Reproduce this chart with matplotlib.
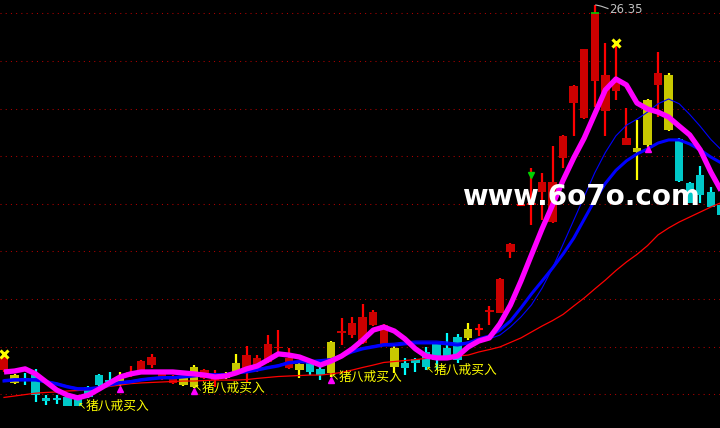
import matplotlib
matplotlib.use("Agg")
import matplotlib.pyplot as plt
import numpy as np

plt.rcParams['font.family'] = ['Noto Sans CJK SC', 'DejaVu Sans']

# daily candles (price units)
opens = [11.01, 10.47, 10.68, 10.80, 9.84, 9.84, 9.88, 9.96, 10.30, 10.80,
         10.59, 10.38, 10.87, 10.93, 11.22, 10.64, 10.47, 10.38, 10.30, 10.68,
         10.59, 10.68, 10.93, 11.10, 11.01, 11.35, 11.94, 11.10, 11.01, 11.31,
         11.06, 10.89, 12.57, 12.48, 12.15, 12.90, 12.06, 11.14, 11.31, 11.48,
         11.77, 12.11, 11.94, 12.40, 12.36, 12.72, 13.45, 13.41, 15.97, 17.95,
         17.95, 18.49, 17.23, 19.92, 22.23, 21.60, 23.16, 21.90, 22.74, 20.47,
         20.17, 20.47, 22.99, 21.10, 20.72, 18.87, 19.21, 18.49, 17.95]
highs = [11.69, 10.86, 10.89, 11.06, 9.96, 9.96, 9.90, 9.98, 10.34, 10.84,
         10.93, 10.93, 11.18, 11.43, 11.69, 10.93, 10.80, 10.76, 11.22, 11.05,
         11.01, 10.93, 11.69, 12.02, 11.64, 12.48, 12.69, 11.94, 11.31, 11.35,
         11.14, 12.23, 13.20, 13.24, 13.79, 13.55, 12.95, 12.02, 11.52, 11.52,
         11.98, 12.19, 12.57, 12.52, 12.99, 12.95, 13.70, 14.86, 16.33, 17.97,
         19.50, 19.29, 20.42, 20.87, 22.97, 24.52, 26.35, 24.75, 24.75, 22.02,
         21.52, 22.40, 24.37, 23.49, 20.76, 18.90, 19.58, 18.70, 18.10]
lows = [10.93, 10.44, 10.38, 9.67, 9.54, 9.58, 9.48, 9.48, 9.84, 10.30,
        10.30, 10.34, 10.72, 10.89, 11.10, 10.60, 10.44, 10.34, 10.26, 10.64,
        10.30, 10.64, 10.89, 10.51, 10.93, 11.31, 11.77, 11.06, 10.68, 10.80,
        10.59, 10.72, 12.06, 12.36, 12.11, 12.86, 12.02, 10.89, 10.80, 10.93,
        11.01, 11.01, 11.43, 11.31, 12.27, 12.44, 12.90, 13.39, 15.72, 17.95,
        17.11, 17.32, 17.19, 19.50, 20.85, 21.58, 22.06, 20.85, 22.36, 20.47,
        19.00, 20.40, 21.64, 21.06, 18.91, 18.03, 18.03, 17.86, 17.40]
closes = [11.56, 10.80, 10.59, 9.96, 9.71, 9.75, 9.50, 9.50, 9.88, 10.38,
          10.51, 10.72, 10.91, 11.39, 11.56, 10.89, 10.72, 10.72, 11.14, 11.01,
          10.64, 10.89, 11.31, 11.64, 11.52, 12.11, 11.98, 11.52, 11.27, 10.93,
          10.80, 12.19, 12.65, 12.99, 13.24, 13.45, 12.90, 11.94, 11.10, 11.31,
          11.14, 11.43, 11.56, 11.43, 12.74, 12.76, 13.52, 14.84, 16.31, 17.97,
          18.03, 18.91, 18.91, 20.85, 22.95, 24.50, 26.01, 23.41, 23.07, 20.76,
          20.34, 22.36, 23.49, 23.41, 18.95, 18.05, 18.37, 17.86, 17.52]
# r = up (red), c = down (cyan), y = yellow signal bar
kinds = list("ry" + "ccccccccc" + "y" + "rrrrr" + "yy" + "rr" + "yy" + "rrrrr"
             + "y" + "cc" + "y" + "rrrrr" + "y" + "cccccc" + "y"
             + "rrrrrrrrrrrrrrr" + "yy" + "r" + "y" + "ccccc")

# indicator lines
ma_main = [10.93, 10.97, 11.06, 10.85, 10.51, 10.17, 9.96, 9.84, 9.96, 10.21,
           10.47, 10.72, 10.85, 10.93, 10.93, 10.93, 10.93, 10.89, 10.85, 10.80,
           10.72, 10.76, 10.89, 11.06, 11.18, 11.43, 11.69, 11.64, 11.56, 11.39,
           11.22, 11.39, 11.60, 11.90, 12.27, 12.69, 12.82, 12.65, 12.32, 11.90,
           11.60, 11.52, 11.52, 11.60, 11.98, 12.23, 12.36, 12.95, 13.74, 14.75,
           15.85, 16.94, 17.95, 18.99, 19.92, 20.76, 21.77, 22.78, 23.24, 22.99,
           22.23, 21.98, 21.85, 21.64, 21.26, 20.89, 20.26, 19.33, 18.53]
ma_blue = [10.55, 10.59, 10.59, 10.59, 10.51, 10.42, 10.30, 10.21, 10.21, 10.26,
           10.38, 10.47, 10.51, 10.59, 10.64, 10.68, 10.68, 10.72, 10.76, 10.80,
           10.80, 10.80, 10.89, 10.93, 11.01, 11.10, 11.18, 11.31, 11.35, 11.35,
           11.39, 11.43, 11.60, 11.77, 11.90, 11.98, 12.06, 12.06, 12.11, 12.15,
           12.15, 12.15, 12.11, 12.06, 12.15, 12.32, 12.44, 12.69, 13.07, 13.62,
           14.21, 14.75, 15.30, 15.89, 16.55, 17.35, 18.15, 18.85, 19.40, 19.80,
           20.09, 20.30, 20.55, 20.68, 20.68, 20.51, 20.26, 19.96, 19.71]
ma_thin = [10.61, 10.65, 10.65, 10.65, 10.57, 10.48, 10.36, 10.27, 10.27, 10.32,
           10.44, 10.53, 10.57, 10.65, 10.70, 10.74, 10.74, 10.78, 10.82, 10.86,
           10.86, 10.86, 10.95, 10.99, 11.07, 11.16, 11.24, 11.37, 11.41, 11.41,
           11.45, 11.49, 11.66, 11.83, 11.96, 12.04, 12.12, 12.14, 12.19, 12.23,
           12.23, 12.23, 12.19, 12.14, 12.19, 12.25, 12.32, 12.48, 12.82, 13.24,
           13.75, 14.45, 15.30, 16.30, 17.30, 18.30, 19.30, 20.15, 20.85, 21.30,
           21.55, 21.85, 22.20, 22.40, 22.20, 21.75, 21.25, 20.70, 20.26]
ma_red = [9.86, 9.92, 9.98, 10.04, 10.07, 10.09, 10.13, 10.15, 10.19, 10.26,
          10.32, 10.38, 10.44, 10.47, 10.49, 10.51, 10.53, 10.55, 10.55, 10.57,
          10.59, 10.59, 10.59, 10.61, 10.66, 10.70, 10.74, 10.76, 10.78, 10.80,
          10.80, 10.85, 10.91, 11.01, 11.12, 11.22, 11.33, 11.37, 11.41, 11.45,
          11.50, 11.54, 11.58, 11.60, 11.64, 11.77, 11.87, 11.98, 12.17, 12.36,
          12.61, 12.86, 13.09, 13.35, 13.70, 14.04, 14.42, 14.79, 15.19, 15.55,
          15.87, 16.24, 16.69, 16.98, 17.23, 17.44, 17.65, 17.86, 18.05]

# signals
buy_bars = [7, 18, 31, 40]        # "猪八戒买入" labels
hat_bars = [11, 18, 31, 61]       # magenta marks under yellow bars
cross_bars = [0, 58]              # yellow crosses on the high
tri_bars = [50]                   # green triangle
top_bar = 56                      # highest bar, labelled with its high
grid_levels = [10, 12, 14, 16, 18, 20, 22, 24, 26]

body_col = {"r": "#cc0000", "c": "#00c8c8", "y": "#c8c800"}
wick_col = {"r": "#ff0000", "c": "#00ffff", "y": "#ffff00"}

n = len(closes)
x = np.arange(n)

fig = plt.figure(figsize=(7.2, 4.28), dpi=100, facecolor="black")
ax = fig.add_axes([0, 0, 1, 1])
ax.set_facecolor("black")
ax.set_xlim(-0.38, 67.87)
ax.set_ylim(8.576, 26.559)
ax.axis("off")

for g in grid_levels:
    ax.axhline(g, color="#b00000", lw=0.75, ls=(0, (1, 4)), zorder=1)

# candles
for i in range(n):
    k = kinds[i]
    ax.vlines(i, lows[i], highs[i], color=wick_col[k], lw=1.6, zorder=2)
    h = abs(closes[i] - opens[i])
    if h < 0.04:
        ax.hlines(opens[i], i - 0.4, i + 0.4, color=wick_col[k], lw=1.5, zorder=3)
    else:
        ax.bar(i, h, 0.8, min(opens[i], closes[i]), color=body_col[k],
               linewidth=0, zorder=3)

# green tick on top of the high bar body
ax.hlines(closes[top_bar], top_bar - 0.4, top_bar + 0.4, color="#00d000", lw=1.2, zorder=4)

ax.plot(x, ma_red, color="#ff0000", lw=0.9, zorder=4)
ax.plot(x, ma_thin, color="#0000ff", lw=0.8, zorder=4)
ax.plot(x, ma_blue, color="#0000ff", lw=2.2, zorder=5)
ax.plot(x, ma_main, color="#ff00ff", lw=3.8, zorder=6, solid_capstyle="butt")

# markers
for i in cross_bars:
    ax.plot(i, highs[i], marker="x", color="#ffff00", ms=6, mew=2.2, zorder=7)
for i in tri_bars:
    ax.plot(i, highs[i] - 0.3, marker="v", color="#00d000", ms=5, zorder=7)
for i in hat_bars:
    ax.plot(i, lows[i] - 0.12, marker="^", color="#ff00ff", ms=4.5, zorder=7)

for i in buy_bars:
    ax.text(i, lows[i], "↖", color="#ffff00", fontsize=7, family="DejaVu Sans",
            ha="left", va="center", zorder=8)
    ax.text(i + 0.7, lows[i], "猪八戒买入", color="#ffff00", fontsize=9.2,
            ha="left", va="center", zorder=8)

# high price label
ax.plot([top_bar + 0.1, top_bar + 0.6, top_bar + 1.25],
        [highs[top_bar], highs[top_bar] - 0.05, highs[top_bar] - 0.15],
        color="#c0c0c0", lw=0.8, zorder=8)
ax.text(top_bar + 1.4, highs[top_bar] - 0.2, f"{highs[top_bar]:.2f}", color="#c0c0c0",
        fontsize=8.5, family="DejaVu Sans", ha="left", va="center", zorder=8)

# watermark
ax.text(462 / 720, 1 - 205 / 428, "www.6o7o.com", transform=ax.transAxes,
        color="white", fontsize=20, fontweight="bold", family="DejaVu Sans",
        ha="left", va="baseline", zorder=10)

fig.savefig("out.png", dpi=100, facecolor="black")
